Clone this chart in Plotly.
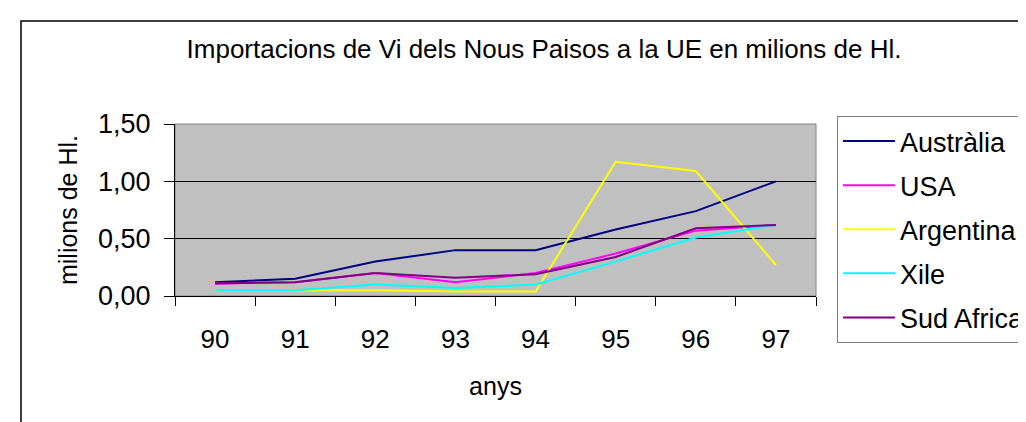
import plotly.graph_objects as go

# years (categories) and imports in millions of Hl
years = ['90', '91', '92', '93', '94', '95', '96', '97']
australia = [0.12, 0.15, 0.30, 0.40, 0.40, 0.58, 0.74, 1.00]
usa = [0.11, 0.12, 0.20, 0.12, 0.20, 0.37, 0.57, 0.62]
argentina = [0.05, 0.05, 0.05, 0.04, 0.04, 1.17, 1.09, 0.27]
xile = [0.05, 0.05, 0.10, 0.07, 0.10, 0.30, 0.51, 0.62]
sud_africa = [0.11, 0.12, 0.20, 0.16, 0.19, 0.34, 0.59, 0.62]

series = [
    ('Austràlia', australia, '#000080'),
    ('USA', usa, '#FF00FF'),
    ('Argentina', argentina, '#FFFF00'),
    ('Xile', xile, '#00FFFF'),
    ('Sud Africa', sud_africa, '#800080'),
]

FONT = 'Arial, "Liberation Sans", sans-serif'

# plot area in pixels: x 167-808, y 116-288
W, H = 1026, 422
L, R, T, B = 167, 808, 116, 288
pw, ph = R - L, B - T


def px_x(px):
    return (px - L) / pw


def px_y(py):
    return (B - py) / ph


fig = go.Figure()

for i, (name, vals, color) in enumerate(series):
    fig.add_trace(go.Scatter(
        x=years, y=vals, mode='lines', name=name,
        line=dict(color=color, width=2),
        legendgroup=f'g{i}',
    ))

fig.update_layout(
    width=W, height=H,
    margin=dict(l=L, r=W - R, t=T, b=H - B, pad=0, autoexpand=False),
    paper_bgcolor='white',
    plot_bgcolor='#C0C0C0',
    separators=', ',
    font=dict(family=FONT, color='black', size=26),
    title=dict(
        text='Importacions de Vi dels Nous Paisos a la UE en milions de Hl.',
        font=dict(size=26),
        x=px_x(536), xref='paper', xanchor='center',
        y=1 - 41 / H, yref='container', yanchor='middle',
    ),
    legend=dict(
        x=829 / W, xanchor='left', xref='container',
        y=1 - 108 / H, yanchor='top', yref='container',
        bgcolor='white',
        bordercolor='#808080', borderwidth=1,
        font=dict(size=27),
        tracegroupgap=6,
        itemwidth=52,
        maxheight=300,
    ),
    showlegend=True,
)

fig.update_xaxes(
    type='category',
    range=[-0.5, 7.5],
    tickson='boundaries',
    ticks='outside', ticklen=9, tickcolor='black', tickwidth=1,
    ticklabelstandoff=20,
    automargin=False,
    showline=True, linecolor='black', linewidth=1,
    showgrid=False,
    tickfont=dict(size=26),
    title=dict(text='anys', font=dict(size=25), standoff=24),
)

fig.update_yaxes(
    range=[0, 1.5],
    tickvals=[0, 0.5, 1.0, 1.5],
    tickformat='.2f',
    ticks='outside', ticklen=10, tickcolor='black', tickwidth=1,
    ticklabelstandoff=8,
    automargin=False,
    showline=True, linecolor='black', linewidth=1,
    showgrid=True, gridcolor='black', gridwidth=1,
    zeroline=False,
    tickfont=dict(size=27),
    title=dict(text='milions de Hl.', font=dict(size=25), standoff=13),
)

# plot area border (top/right) in grey
fig.add_shape(type='rect', xref='paper', yref='paper',
              x0=0, x1=1, y0=0, y1=1,
              line=dict(color='#808080', width=1), layer='below')

# outer chart frame
fig.add_shape(type='rect', xref='paper', yref='paper',
              x0=px_x(13), x1=px_x(1040), y0=px_y(440), y1=px_y(13),
              line=dict(color='black', width=1.5), layer='above')

fig.write_html('out.html')
